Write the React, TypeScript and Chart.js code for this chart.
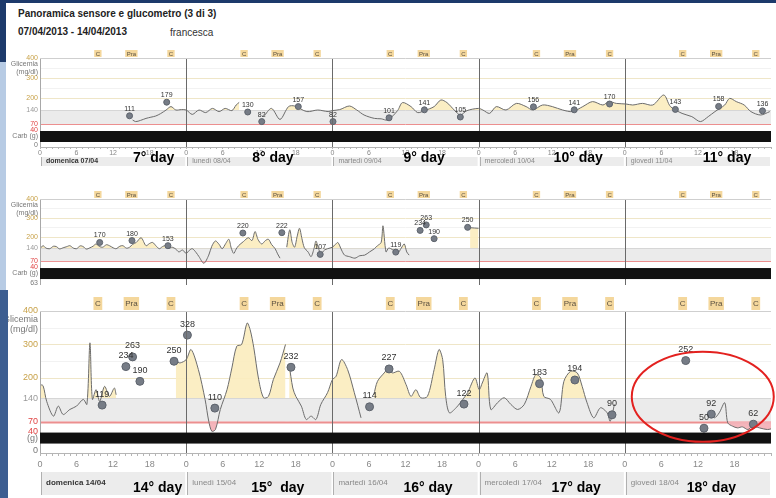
import React, { useEffect, useRef } from "react";
import { Chart, registerables } from "chart.js";

Chart.register(...registerables);

type Pt = [number, number | null];

// ---------------- data ----------------
const TICK_HOURS = [0, 6, 12, 18];
const Y_LABEL_VALUES = [400, 300, 200, 140, 70, 40];
const MEAL_HOURS = [9.5, 15, 21.5];
const MEAL_LABELS = ["C", "Pra", "C"];

const P1_DAY_NAMES = ["domenica 07/04", "lunedì 08/04", "martedì 09/04", "mercoledì 10/04", "giovedì 11/04"];
const P1_DAY_TAGS = ["7° day", "8° day", "9° day", "10° day", "11° day"];
const P3_DAY_NAMES = ["domenica 14/04", "lunedì 15/04", "martedì 16/04", "mercoledì 17/04", "giovedì 18/04"];
const P3_DAY_TAGS = ["14° day", "15°  day", "16° day", "17° day", "18° day"];

// sensor traces: [hour from panel start, mg/dl] (null = gap)
const P1_SENSOR: Pt[] = [
  [15.2, 90], [15.7, 82], [16.5, 88], [17.4, 98], [18.2, 104], [19.0, 110], [19.8, 122], [20.7, 140], [21.5, 157],
  [22.3, 140], [23.2, 142], [24.0, 140], [25.0, 118], [26.1, 140], [27.2, 127], [28.3, 148], [29.4, 132], [30.4, 148],
  [31.5, 137], [32.2, 165], [32.7, 178], [33.5, null], [36.7, 106], [38.0, 148], [39.4, 93], [40.8, 157], [41.8, 160],
  [43.8, 132], [45.6, 140], [47.3, 132], [48.0, 137], [49.2, 142], [50.8, 160], [52.0, 140], [53.2, 115], [54.9, 98],
  [56.0, 96], [57.1, 90], [58.7, 137], [59.5, 177], [60.9, 157], [62.0, 127], [63.1, 137], [64.7, 157], [65.8, 190],
  [66.8, 177], [68.0, 140], [69.0, 115], [70.1, 137], [72.0, 148], [72.7, 140], [73.8, 123], [74.9, 157], [76.5, 140],
  [78.2, 173], [79.8, 157], [80.9, 140], [82.5, 165], [84.1, 157], [85.8, 140], [87.4, 132], [89.1, 157], [90.7, 182],
  [92.4, 165], [93.4, 182], [94.6, 173], [96.2, 170], [97.3, 165], [98.9, 173], [100.6, 165], [102.4, 215], [103.5, 157],
  [105.4, 123], [107.0, 107], [108.4, 82], [109.7, 107], [110.8, 132], [112.4, 165], [113.2, 198], [114.3, 182],
  [115.6, 165], [116.7, 132], [118.3, 115], [119.8, 132],
];
const P1_METERS: Pt[] = [
  [14.7, 111], [20.8, 179], [34.1, 130], [36.4, 82], [42.4, 157], [48.1, 82], [57.3, 101], [63.1, 141],
  [69.0, 105], [81.0, 156], [87.7, 141], [93.5, 170], [104.3, 143], [111.4, 158], [118.6, 136],
];

const P2_SENSOR: Pt[] = [
  [0, 137], [0.5, 153], [1.0, 140], [1.6, 137], [2.2, 150], [2.7, 148], [3.2, 136], [3.8, 142], [4.4, 148], [4.9, 153],
  [5.5, 140], [6.0, 137], [6.6, 152], [7.1, 148], [7.6, 135], [8.2, 142], [8.7, 150], [9.2, 162], [9.8, 148], [10.3, 145],
  [10.9, 158], [11.4, 153], [12.0, 142], [12.5, 137], [13.1, 150], [13.6, 153], [14.2, 140], [14.7, 145], [15.2, 160],
  [15.8, 170], [16.6, 195], [17.4, 153], [18.0, 165], [18.5, 170], [19.1, 150], [19.6, 137], [20.1, 148], [20.6, 153],
  [21.2, 140], [21.7, 145], [22.3, 135], [22.8, 120], [23.4, 130], [24.0, 112], [24.5, 128], [25.0, 137], [25.6, 118],
  [26.1, 95], [26.9, 60], [27.7, 103], [28.2, 150], [28.8, 178], [29.4, 160], [29.9, 137], [30.5, 165], [31.0, 187],
  [31.4, 140], [31.8, 112], [32.2, 135], [32.6, 153], [33.4, 175], [34.2, 195], [34.8, 180], [35.3, 228], [35.8, 185],
  [36.4, 162], [37.0, 180], [37.5, 187], [38.0, 160], [38.6, 137], [39.0, 110], [39.4, 87], [40.0, null], [40.5, 145],
  [41.0, 237], [41.4, 170], [41.8, 145], [42.2, 200], [42.6, 245], [43.0, 190], [43.4, 142], [44.0, 120], [44.5, 95],
  [45.0, 140], [45.3, 178], [45.7, 140], [46.1, 112], [46.7, 130], [47.2, 137], [48.0, 145], [48.5, 160], [48.9, 170],
  [49.5, 130], [50.0, 103], [50.8, 95], [51.7, 87], [52.5, 100], [53.3, 103], [54.1, 120], [54.9, 137], [55.4, 153],
  [56.0, 170], [56.3, 258], [56.8, 120], [57.2, 140], [57.6, 137], [58.2, 125], [58.7, 112], [59.3, 140], [59.8, 162],
  [60.2, 120], [60.6, 103], [61.0, null], [70.6, 248], [72.0, 245],
];
const P2_METERS: Pt[] = [
  [9.8, 170], [15.1, 180], [21.0, 153], [33.3, 220], [39.7, 222], [46.0, 107], [58.4, 119],
  [62.4, 234], [63.4, 263], [64.7, 190], [70.2, 250],
];

const P3_SENSOR: Pt[] = [
  [0, 180], [0.5, 177], [1.1, 130], [2.2, 86], [3.0, 116], [3.8, 91], [4.9, 106], [6.0, 116], [7.1, 136], [7.7, 121],
  [8.2, 305], [8.6, 136], [9.2, 165], [9.8, 130], [10.6, 175], [11.4, 145], [12.2, 170], [12.5, 150], [13.0, null],
  [22.3, 250], [23.0, 245], [24.0, 255], [24.8, 285], [26.0, 225], [27.1, 136], [27.7, 71], [28.2, 41], [28.8, 46],
  [29.6, 106], [30.7, 165], [31.5, 230], [32.3, 295], [33.1, 300], [34.0, 364], [34.5, 344], [35.1, 290], [35.9, 195],
  [36.7, 141], [37.5, 145], [38.3, 195], [39.4, 245], [40.3, 300], [40.6, null], [40.9, 240], [41.5, 170], [42.0, 145],
  [42.9, 116], [43.7, 76], [44.5, 86], [45.3, 76], [46.1, 121], [47.2, 156], [48.0, 195], [48.6, 205], [49.5, 255],
  [50.5, 225], [51.6, 156], [52.7, 81], [53.0, null], [54.8, 150], [55.4, 190], [56.5, 215], [57.3, 230], [57.8, 215],
  [59.0, 220], [60.1, 180], [60.9, 145], [61.7, 165], [62.5, 141], [63.6, 145], [64.7, 225], [65.5, 285], [66.1, 255],
  [66.6, 145], [67.2, 96], [68.3, 111], [69.4, 136], [70.2, 156], [71.4, 200], [72.1, 165], [72.6, 185], [73.4, 215],
  [74.0, 106], [75.1, 126], [76.2, 141], [77.3, 121], [78.4, 106], [79.5, 121], [80.6, 175], [81.4, 210], [82.2, 200],
  [82.7, 145], [83.8, 136], [85.2, 96], [86.0, 190], [87.1, 220], [88.2, 215], [89.0, 175], [89.8, 126], [90.9, 81],
  [92.0, 111], [93.1, 96], [93.6, 71], [94.3, 121], [95.0, null], [110.0, 96], [110.7, 81], [111.5, 96], [112.4, 126],
  [112.9, 66], [113.7, 56], [114.5, 51], [115.3, 54], [116.2, 46], [117.0, 56], [118.1, 51], [119.4, 46], [120, 48],
];
const P3_METERS: Pt[] = [
  [10.2, 119], [14.1, 234], [15.2, 263], [16.4, 190], [22.0, 250], [24.2, 328], [28.7, 110], [41.2, 232],
  [54.1, 114], [57.3, 227], [69.6, 122], [82.0, 183], [87.8, 194], [93.9, 90], [106.0, 252], [109.0, 50],
  [110.2, 92], [117.1, 62],
];

// ---------------- constants / style ----------------
const DAYS = 5;
const TOTAL_HOURS = DAYS * 24;
const Y_MAX = 400;
const TARGET_HIGH = 140;
const TARGET_LOW = 70;
const CARB_TOP = 40;
const GUIDE_VALUES = [350, 300, 250, 200];
const FONT = '"Liberation Sans", Arial, Helvetica, sans-serif';
const W = 776;

interface PanelSpec {
  top: number;
  height: number;
  padTop: number;
  axisHeight: number;
  yMin: number;
  font: number;
  tickLen: number;
  tickPad: number;
  mealFont: number;
  mealBoxH: number;
  pointR: number;
  labelGap: number;
  sensor: Pt[];
  meters: Pt[];
  dayNames?: string[];
  dayTags?: string[];
  tagOffsets?: number[];
  dayBarGap?: number;
  dayBarH?: number;
  dayNameFont?: number;
  tagY?: number;
  carbLabel: string;
  bottomLabel: string;
  hypoWidth: number;
  ellipse?: { hour: number; value: number; rx: number; ry: number };
}

const PANELS: PanelSpec[] = [
  {
    top: 40, height: 135, padTop: 18, axisHeight: 28, yMin: -45, font: 7, tickLen: 2, tickPad: 0,
    mealFont: 6, mealBoxH: 7, pointR: 3, labelGap: 7, sensor: P1_SENSOR, meters: P1_METERS,
    dayNames: P1_DAY_NAMES, dayTags: P1_DAY_TAGS, tagOffsets: [93, 66, 71, 75, 78],
    dayBarGap: 10, dayBarH: 9, dayNameFont: 7, tagY: 11, carbLabel: "Carb (g)", bottomLabel: "0", hypoWidth: 1,
  },
  {
    top: 175, height: 115, padTop: 24, axisHeight: 0, yMin: -55, font: 7, tickLen: 2, tickPad: 0,
    mealFont: 6, mealBoxH: 7, pointR: 3, labelGap: 7, sensor: P2_SENSOR, meters: P2_METERS,
    carbLabel: "Carb (g)", bottomLabel: "63", hypoWidth: 1,
  },
  {
    top: 290, height: 208, padTop: 21, axisHeight: 45, yMin: -24, font: 9, tickLen: 3, tickPad: 3,
    mealFont: 8, mealBoxH: 13, pointR: 4, labelGap: 11, sensor: P3_SENSOR, meters: P3_METERS,
    dayNames: P3_DAY_NAMES, dayTags: P3_DAY_TAGS, tagOffsets: [93, 65, 71, 73, 62],
    dayBarGap: 19, dayBarH: 23, dayNameFont: 8, tagY: 35, carbLabel: "(g)", bottomLabel: "0", hypoWidth: 2,
    ellipse: { hour: 108.8, value: 144, rx: 71, ry: 45 },
  },
];

const HOUR_TICKS = Array.from({ length: TOTAL_HOURS + 1 }, (_, i) => i);

function hline(ctx: CanvasRenderingContext2D, x0: number, x1: number, y: number) {
  ctx.beginPath();
  ctx.moveTo(x0, y);
  ctx.lineTo(x1, y);
  ctx.stroke();
}
function vline(ctx: CanvasRenderingContext2D, x: number, y0: number, y1: number) {
  ctx.beginPath();
  ctx.moveTo(x, y0);
  ctx.lineTo(x, y1);
  ctx.stroke();
}

function makeDecor(spec: PanelSpec) {
  return {
    id: "panelDecor",
    beforeDatasetsDraw(chart: any) {
      const { ctx, chartArea: a, scales } = chart;
      const ys = scales.y;
      ctx.save();
      ctx.lineWidth = 1;
      for (const v of GUIDE_VALUES) {
        const py = Math.round(ys.getPixelForValue(v)) + 0.5;
        ctx.strokeStyle = v === 200 || v === 300 ? "#efe6c8" : "#f2f2f2";
        hline(ctx, a.left, a.right, py);
      }
      const yHi = ys.getPixelForValue(TARGET_HIGH);
      const yLo = ys.getPixelForValue(TARGET_LOW);
      ctx.fillStyle = "#ebebeb";
      ctx.fillRect(a.left, yHi, a.right - a.left, yLo - yHi);
      ctx.strokeStyle = "#d6d6d6";
      hline(ctx, a.left, a.right, Math.round(yHi) + 0.5);
      ctx.strokeStyle = "#ec8f8f";
      ctx.lineWidth = spec.hypoWidth;
      hline(ctx, a.left, a.right, Math.round(yLo) + 0.5);
      ctx.restore();
    },
    afterDatasetsDraw(chart: any) {
      const { ctx, chartArea: a, scales } = chart;
      const xs = scales.x;
      const ys = scales.y;
      ctx.save();
      // day separators + borders
      ctx.lineWidth = 1;
      ctx.strokeStyle = "#6a6a6a";
      for (let d = 1; d < DAYS; d++) {
        vline(ctx, Math.round(xs.getPixelForValue(d * 24)) + 0.5, a.top, a.bottom);
      }
      ctx.strokeStyle = "#a8a8a8";
      vline(ctx, Math.round(xs.getPixelForValue(0)) + 0.5, a.top, a.bottom);
      ctx.strokeStyle = "#cfcfcf";
      hline(ctx, a.left, a.right, Math.round(a.top) + 0.5);

      // carb strip
      const y40 = ys.getPixelForValue(CARB_TOP);
      ctx.fillStyle = "#111111";
      ctx.fillRect(a.left, y40 + 1, a.right - a.left, 11);

      // meter labels
      const meta = chart.getDatasetMeta(0);
      ctx.fillStyle = "#333";
      ctx.font = `${spec.font}px ${FONT}`;
      ctx.textAlign = "center";
      ctx.textBaseline = "middle";
      meta.data.forEach((el: any, i: number) => {
        const v = spec.meters[i][1];
        if (v == null) return;
        ctx.fillText(String(v), el.x, el.y - spec.labelGap);
      });

      // y labels
      ctx.textAlign = "right";
      const lx = a.left - 2;
      for (const v of Y_LABEL_VALUES) {
        ctx.fillStyle = v >= 200 ? "#c8a24a" : v === 140 ? "#9a9a9a" : "#e04444";
        ctx.fillText(String(v), lx, ys.getPixelForValue(v));
      }
      const yTop = ys.getPixelForValue(Y_MAX);
      ctx.fillStyle = "#777";
      ctx.fillText("Glicemia", lx, yTop + spec.font * 0.9);
      ctx.fillText("(mg/dl)", lx, yTop + spec.font * 2.05);
      ctx.fillText(spec.carbLabel, lx, y40 + 6.5);
      ctx.fillText(spec.bottomLabel, lx, a.bottom - 2);

      // meal boxes
      ctx.font = `${spec.mealFont}px ${FONT}`;
      ctx.textAlign = "center";
      for (let d = 0; d < DAYS; d++) {
        MEAL_HOURS.forEach((h, i) => {
          const cx = xs.getPixelForValue(d * 24 + h);
          const tw = ctx.measureText(MEAL_LABELS[i]).width + 3;
          const by = a.top - 1 - spec.mealBoxH;
          ctx.fillStyle = "#f4d79c";
          ctx.fillRect(cx - tw / 2, by, tw, spec.mealBoxH);
          ctx.fillStyle = "#5a5040";
          ctx.fillText(MEAL_LABELS[i], cx, by + spec.mealBoxH / 2 + 0.5);
        });
      }

      // day name bar + tags
      if (spec.dayNames && spec.dayBarGap != null && spec.dayBarH != null) {
        const barTop = a.bottom + spec.dayBarGap;
        for (let d = 0; d < DAYS; d++) {
          const x0 = xs.getPixelForValue(d * 24);
          const x1 = xs.getPixelForValue((d + 1) * 24);
          ctx.fillStyle = "#ececec";
          ctx.fillRect(x0 + 1, barTop, x1 - x0 - 2, spec.dayBarH);
          ctx.strokeStyle = "#b0b0b0";
          vline(ctx, Math.round(x0) + 1.5, barTop, barTop + spec.dayBarH);
          ctx.fillStyle = d === 0 ? "#333" : "#888";
          ctx.font = `${d === 0 ? "bold " : ""}${spec.dayNameFont}px ${FONT}`;
          ctx.textAlign = "left";
          ctx.textBaseline = "middle";
          ctx.fillText(spec.dayNames[d], x0 + 6, barTop + Math.min(spec.dayBarH, 22) / 2);
          if (spec.dayTags && spec.tagOffsets && spec.tagY != null) {
            ctx.fillStyle = "#000";
            ctx.font = `bold 14px ${FONT}`;
            ctx.fillText(spec.dayTags[d], x0 + spec.tagOffsets[d], a.bottom + spec.tagY);
          }
        }
      }

      // highlight ellipse
      if (spec.ellipse) {
        const e = spec.ellipse;
        ctx.strokeStyle = "#e3211f";
        ctx.lineWidth = 2;
        ctx.beginPath();
        ctx.ellipse(xs.getPixelForValue(e.hour), ys.getPixelForValue(e.value), e.rx, e.ry, 0, 0, Math.PI * 2);
        ctx.stroke();
      }
      ctx.restore();
    },
  };
}

function toXY(pts: Pt[]) {
  return pts.map(([x, y]) => ({ x, y }));
}

function buildConfig(spec: PanelSpec): any {
  const sensor = toXY(spec.sensor);
  return {
    type: "line",
    data: {
      datasets: [
        {
          label: "glucometro",
          data: toXY(spec.meters),
          showLine: false,
          pointRadius: spec.pointR,
          pointBackgroundColor: "#767c86",
          pointBorderColor: "#5d636c",
          pointBorderWidth: 1,
          order: 0,
        },
        {
          label: "sensore",
          data: sensor,
          borderColor: "#6c6c6c",
          borderWidth: 1,
          pointRadius: 0,
          tension: 0.3,
          spanGaps: false,
          fill: { target: { value: TARGET_HIGH }, above: "rgba(251,236,190,0.9)", below: "rgba(0,0,0,0)" },
          order: 1,
        },
        {
          label: "ipo",
          data: sensor,
          borderWidth: 0,
          borderColor: "rgba(0,0,0,0)",
          pointRadius: 0,
          tension: 0.3,
          spanGaps: false,
          fill: { target: { value: TARGET_LOW }, above: "rgba(0,0,0,0)", below: "rgba(243,178,184,0.95)" },
          order: 2,
        },
      ],
    },
    options: {
      responsive: false,
      maintainAspectRatio: false,
      animation: false,
      devicePixelRatio: 1,
      events: [],
      layout: { padding: { top: spec.padTop, left: 40, right: 0, bottom: 0 } },
      plugins: { legend: { display: false }, tooltip: { enabled: false } },
      scales: {
        x: {
          type: "linear",
          min: 0,
          max: TOTAL_HOURS,
          display: spec.axisHeight > 0,
          afterBuildTicks: (axis: any) => {
            axis.ticks = HOUR_TICKS.map((v) => ({ value: v }));
          },
          afterFit: (axis: any) => {
            axis.height = spec.axisHeight;
          },
          ticks: {
            autoSkip: false,
            maxRotation: 0,
            minRotation: 0,
            padding: spec.tickPad,
            color: "#888",
            font: { size: spec.font, family: FONT },
            callback: (value: any) => {
              const v = Number(value);
              return v < TOTAL_HOURS && TICK_HOURS.includes(v % 24) ? String(v % 24) : "";
            },
          },
          grid: { drawOnChartArea: false, tickLength: spec.tickLen, color: "#b5b5b5", tickColor: "#b5b5b5" },
          border: { color: "#b5b5b5" },
        },
        y: { type: "linear", min: spec.yMin, max: Y_MAX, display: false },
      },
    },
    plugins: [makeDecor(spec)],
  };
}

function Panel({ spec }: { spec: PanelSpec }) {
  const ref = useRef<HTMLCanvasElement>(null);
  useEffect(() => {
    if (!ref.current) return;
    const chart = new Chart(ref.current, buildConfig(spec));
    return () => chart.destroy();
  }, [spec]);
  return (
    <canvas
      ref={ref}
      width={W}
      height={spec.height}
      style={{ position: "absolute", left: 0, top: spec.top, width: W, height: spec.height, display: "block" }}
    />
  );
}

export default function App() {
  const txt: React.CSSProperties = { position: "absolute", fontFamily: FONT, color: "#222", whiteSpace: "nowrap" };
  return (
    <div style={{ position: "fixed", left: 0, top: 0, width: W, height: 498, background: "#fff", overflow: "hidden" }}>
      <div style={{ ...txt, left: 18, top: 8, fontSize: 10, fontWeight: "bold" }}>
        Panoramica sensore e glucometro (3 di 3)
      </div>
      <div style={{ ...txt, left: 18, top: 26, fontSize: 10, fontWeight: "bold" }}>07/04/2013 - 14/04/2013</div>
      <div style={{ ...txt, left: 170, top: 27, fontSize: 10, color: "#333" }}>francesca</div>
      {PANELS.map((p, i) => (
        <Panel key={i} spec={p} />
      ))}
      <div style={{ position: "absolute", left: 0, top: 0, width: W, height: 3, background: "#1d3a6b" }} />
      <div style={{ position: "absolute", left: 0, top: 0, width: 6, height: 62, background: "#1d3a6b" }} />
      <div style={{ position: "absolute", left: 0, top: 62, width: 6, height: 228, background: "#b7cbe4" }} />
      <div style={{ position: "absolute", left: 0, top: 290, width: 8, height: 208, background: "#3d5e91" }} />
    </div>
  );
}
